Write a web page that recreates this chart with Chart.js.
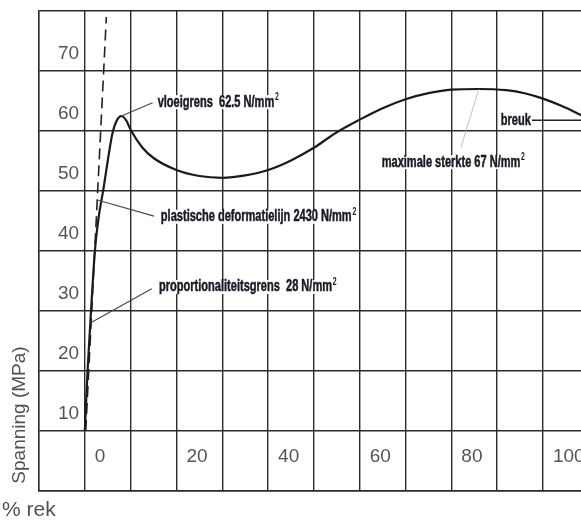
<!DOCTYPE html>
<html>
<head>
<meta charset="utf-8">
<script src="https://cdn.jsdelivr.net/npm/chart.js@4.4.1/dist/chart.umd.min.js"></script>
<style>
  html, body { margin: 0; padding: 0; background: #ffffff; }
  canvas { display: block; }
</style>
</head>
<body>
<canvas id="trekkromme" width="581" height="520"></canvas>
<script>
// Trekkromme van een kunststof: spanning (MPa) tegen rek (%)
const strainPct = [0, 0.6, 1.2, 1.35, 2.2, 3.0, 4.1, 5.0, 6.0, 7.0, 8.0, 9.0, 10.0, 12.5, 15, 20, 25, 30, 35, 40, 45, 50, 55, 60, 65, 70, 75, 80, 86, 92, 96, 100, 104, 108.5];
const stressMPa = [10, 20, 28, 30, 40, 45.5, 50.5, 55, 59.5, 61.8, 62.5, 61.8, 60.2, 57.3, 55.5, 53.5, 52.5, 52.2, 52.6, 53.5, 55.1, 57.2, 59.8, 61.9, 63.8, 65.3, 66.3, 66.9, 67, 66.8, 66.3, 65.4, 64.2, 62.6];

// Plastische deformatielijn (gestreept)
const elasticStrain = [0.2, 4.7];
const elasticStress = [10, 79];

// Asverdeling
const xTickValues = [-10, 0, 10, 20, 30, 40, 50, 60, 70, 80, 90, 100];
const xTickLabels = ['', '0', '', '20', '', '40', '', '60', '', '80', '', '100'];
const yTickValues = [0, 10, 20, 30, 40, 50, 60, 70, 80];
const yTickLabels = ['', '10', '20', '30', '40', '50', '60', '70', ''];

// Kenmerkende waarden
const proportionalLimit = 28;
const yieldStrength = 62.5;
const tensileStrength = 67;
const plasticModulus = 2430;

const curvePoints = strainPct.map((x, i) => ({ x, y: stressMPa[i] }));
const elasticPoints = elasticStrain.map((x, i) => ({ x, y: elasticStress[i] }));

function lineX(points, yVal) {
  const [a, b] = points;
  return a.x + (b.x - a.x) * (yVal - a.y) / (b.y - a.y);
}

// Toelichtingen met verbindingslijn naar de kromme; 'sup' is een superscript achter de tekst
const callouts = [
  { text: 'vloeigrens  ' + yieldStrength + ' N/mm', sup: '2', from: [8, yieldStrength], to: [14.8, 64.7], at: [15.9, 64.8], line: '#4a4a4a', width: 1.2 },
  { text: 'plastische deformatielijn ' + plasticModulus + ' N/mm', sup: '2', from: [lineX(elasticPoints, 48.5), 48.5], to: [15.1, 45.8], at: [16.6, 45.7], line: '#4a4a4a', width: 1.2 },
  { text: 'proportionaliteitsgrens  ' + proportionalLimit + ' N/mm', sup: '2', from: [1.2, proportionalLimit], to: [14.6, 33.7], at: [16.2, 34.0], line: '#4a4a4a', width: 1.2 },
  { text: 'maximale sterkte ' + tensileStrength + ' N/mm', sup: '2', from: [86, tensileStrength], to: [82.1, 57.3], at: [64.8, 54.8], line: '#b0b0b0', width: 0.8 },
  { text: 'breuk', sup: '', from: [108.5, 61.8], to: [97.6, 61.8], at: [90.8, 61.8], line: '#222222', width: 1.5 }
];

// Smalle, vette letter voor de toelichtingen
const LABEL_FONT = 'bold 16px "Liberation Sans", Arial, sans-serif';
const SUP_FONT = 'bold 10px "Liberation Sans", Arial, sans-serif';
const LABEL_SQUEEZE = 0.69;

const calloutPlugin = {
  id: 'callouts',
  afterDatasetsDraw(chart) {
    const { ctx, scales: { x, y } } = chart;
    ctx.save();
    ctx.textBaseline = 'middle';
    ctx.textAlign = 'left';
    for (const c of callouts) {
      const tx = x.getPixelForValue(c.at[0]);
      const ty = y.getPixelForValue(c.at[1]);
      ctx.font = LABEL_FONT;
      const mainW = ctx.measureText(c.text).width;
      ctx.font = SUP_FONT;
      const supW = c.sup ? ctx.measureText(c.sup).width + 1 : 0;
      const w = (mainW + supW) * LABEL_SQUEEZE;
      ctx.fillStyle = '#ffffff';
      ctx.fillRect(tx - 1, ty - 7, w + 2, 14);
      ctx.strokeStyle = c.line;
      ctx.lineWidth = c.width;
      ctx.beginPath();
      ctx.moveTo(x.getPixelForValue(c.from[0]), y.getPixelForValue(c.from[1]));
      ctx.lineTo(x.getPixelForValue(c.to[0]), y.getPixelForValue(c.to[1]));
      ctx.stroke();
      ctx.save();
      ctx.translate(tx, ty);
      ctx.scale(LABEL_SQUEEZE, 1);
      ctx.fillStyle = '#1a1a26';
      ctx.strokeStyle = '#1a1a26';
      ctx.lineWidth = 0.5;
      ctx.font = LABEL_FONT;
      ctx.fillText(c.text, 0, 0);
      ctx.strokeText(c.text, 0, 0);
      if (c.sup) {
        ctx.font = SUP_FONT;
        ctx.fillText(c.sup, mainW + 1, -5);
      }
      ctx.restore();
    }
    ctx.restore();
  },
  afterDraw(chart) {
    const { ctx, chartArea } = chart;
    ctx.save();
    ctx.fillStyle = '#505050';
    ctx.font = '19px "Liberation Sans", Arial, sans-serif';
    ctx.textBaseline = 'middle';
    ctx.textAlign = 'center';
    ctx.translate(chartArea.left - 19, chartArea.bottom - 76);
    ctx.rotate(-Math.PI / 2);
    ctx.fillText('Spanning (MPa)', 0, 0);
    ctx.restore();
    ctx.save();
    ctx.fillStyle = '#505050';
    ctx.font = '21px "Liberation Sans", Arial, sans-serif';
    ctx.textBaseline = 'middle';
    ctx.textAlign = 'left';
    ctx.fillText('% rek', 2, chartArea.bottom + 19);
    ctx.restore();
  }
};

const GRID = '#2a2a2a';
const TICK_FONT = { family: '"Liberation Sans", Arial, sans-serif', size: 19 };

new Chart(document.getElementById('trekkromme'), {
  type: 'line',
  data: {
    datasets: [
      {
        label: 'Spanning',
        data: curvePoints,
        borderColor: '#1a1a1a',
        borderWidth: 2.2,
        pointRadius: 0,
        cubicInterpolationMode: 'monotone',
        fill: false
      },
      {
        label: 'Plastische deformatielijn',
        data: elasticPoints,
        borderColor: '#222222',
        borderWidth: 1.6,
        borderDash: [11, 6],
        pointRadius: 0,
        fill: false
      }
    ]
  },
  options: {
    responsive: false,
    animation: false,
    layout: { padding: { top: 11, left: 0, right: 0, bottom: 0 } },
    plugins: { legend: { display: false }, tooltip: { enabled: false } },
    scales: {
      x: {
        type: 'linear',
        min: -10,
        max: 108.3,
        afterBuildTicks: (s) => { s.ticks = xTickValues.map(v => ({ value: v })); },
        afterFit: (s) => { s.height = 29; s.paddingLeft = 0; s.paddingRight = 0; s.paddingTop = 0; s.paddingBottom = 0; },
        grid: { color: GRID, lineWidth: 1.4, drawTicks: false },
        border: { color: GRID, width: 1.4 },
        ticks: {
          mirror: true,
          align: 'start',
          labelOffset: 10,
          padding: 23,
          maxRotation: 0,
          autoSkip: false,
          color: '#555555',
          font: TICK_FONT,
          callback: (v) => { const i = xTickValues.indexOf(v); return i >= 0 ? xTickLabels[i] : ''; }
        }
      },
      y: {
        type: 'linear',
        min: 0,
        max: 80,
        afterBuildTicks: (s) => { s.ticks = yTickValues.map(v => ({ value: v })); },
        afterFit: (s) => { s.width = 39; s.paddingLeft = 0; s.paddingRight = 0; s.paddingTop = 0; s.paddingBottom = 0; },
        grid: { color: GRID, lineWidth: 1.4, drawTicks: false },
        border: { color: GRID, width: 1.4 },
        ticks: {
          mirror: true,
          padding: 19,
          labelOffset: -17,
          autoSkip: false,
          color: '#555555',
          font: TICK_FONT,
          callback: (v) => { const i = yTickValues.indexOf(v); return i >= 0 ? yTickLabels[i] : ''; }
        }
      }
    }
  },
  plugins: [calloutPlugin]
});
</script>
</body>
</html>
